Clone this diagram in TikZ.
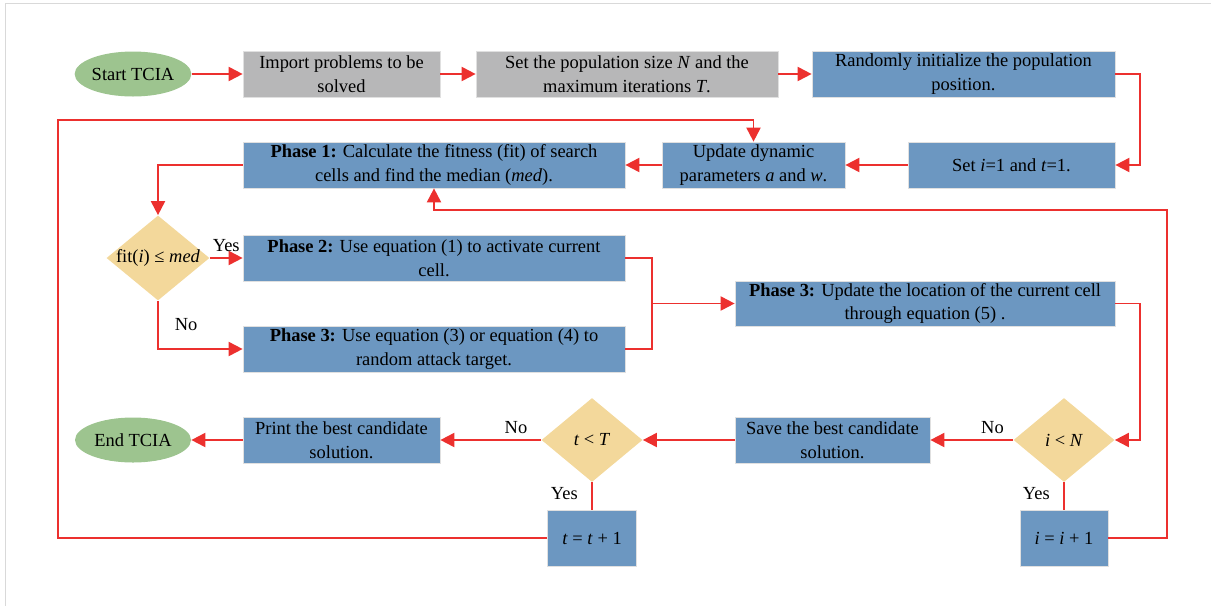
\documentclass[tikz,border=0pt]{standalone}
\usepackage{fontspec}
\setmainfont{Liberation Serif}
\usetikzlibrary{shapes.geometric,arrows.meta}

\definecolor{cellblue}{RGB}{108,151,193}
\definecolor{stepgray}{RGB}{183,183,184}
\definecolor{termgreen}{RGB}{157,196,143}
\definecolor{testyellow}{RGB}{243,216,155}
\definecolor{flowred}{RGB}{236,48,46}

\begin{document}
\begin{tikzpicture}[
    font=\fontsize{10.5}{13.6}\selectfont,
    box/.style={rectangle, draw=black!12, fill=cellblue, align=center, inner sep=1pt, minimum height=0.92cm},
    graybox/.style={box, fill=stepgray},
    term/.style={ellipse, fill=termgreen, inner sep=0pt, minimum width=2.32cm, minimum height=0.9cm},
    test/.style={diamond, fill=testyellow, inner sep=0pt, minimum width=2.02cm, minimum height=1.68cm},
    line/.style={draw=flowred, line width=1.1pt},
    arr/.style={line, -{Triangle[length=8pt,width=8pt]}}
  ]
      \useasboundingbox (0,0) rectangle (24.22,-12.12);
      \draw[black!15] (24.22,-0.06) -- (0.1,-0.06) -- (0.1,-12.12);

      \node [term] (start) at (2.66,-1.48) {Start TCIA};
      \node [graybox, right of=start, xshift=3.17cm, minimum width=3.94cm] (import) {Import problems to be\\solved};
      \node [graybox, right of=import, xshift=4.71cm, minimum width=6.04cm] (size) {Set the population size \textit{N} and the\\maximum iterations \textit{T}.};
      \node [box, right of=size, xshift=5.73cm, minimum width=6.06cm] (init) {Randomly initialize the population\\position.};
      \node [box, below of=init, yshift=-0.82cm, xshift=0.96cm, minimum width=4.14cm] (set) {Set \textit{i}=1 and \textit{t}=1.};
      \node [box, left of=set, xshift=-4.16cm, minimum width=3.66cm] (update) {Update dynamic\\parameters \textit{a} and \textit{w}.};
      \node [box, left of=update, xshift=-5.39cm, minimum width=7.64cm] (phase1) {\textbf{Phase 1:} Calculate the fitness (fit) of search\\cells and find the median (\textit{med}).};
      \node [test, below of=phase1, yshift=-0.86cm, xshift=-5.52cm, minimum width=2.06cm, minimum height=1.7cm] (fit) {\makebox[0pt]{fit(\textit{i}) ≤ \textit{med}}};
      \node [box, below of=phase1, yshift=-0.86cm, minimum width=7.64cm] (phase2) {\textbf{Phase 2:} Use equation (1) to activate current\\cell.};
      \node [box, below of=phase2, yshift=-0.82cm, minimum width=7.64cm] (attack) {\textbf{Phase 3:} Use equation (3) or equation (4) to\\random attack target.};
      \node [box, right of=phase2, xshift=8.82cm, yshift=-0.91cm, minimum width=7.6cm, minimum height=0.9cm] (locate) {\textbf{Phase 3:} Update the location of the current cell\\through equation (5) .};
      \node [test, below of=locate, yshift=-1.73cm, xshift=2.78cm] (ilimit) {\makebox[0pt]{\textit{i} < \textit{N}}};
      \node [box, left of=ilimit, xshift=-3.63cm, minimum width=3.9cm] (save) {Save the best candidate\\solution.};
      \node [test, left of=save, xshift=-3.81cm] (tlimit) {\makebox[0pt]{\textit{t} < \textit{T}}};
      \node [box, left of=tlimit, xshift=-4.01cm, minimum width=3.94cm] (print) {Print the best candidate\\solution.};
      \node [term, left of=print, xshift=-3.17cm] (stop) {End TCIA};
      \node [box, below of=tlimit, yshift=-0.96cm, minimum width=1.78cm, minimum height=1.12cm] (tinc) {\textit{t} = \textit{t} + 1};
      \node [box, below of=ilimit, yshift=-0.96cm, minimum width=1.76cm, minimum height=1.12cm] (iinc) {\textit{i} = \textit{i} + 1};

      \draw[arr] (start) -- (import);
      \draw[arr] (import) -- (size);
      \draw[arr] (size) -- (init);
      \draw[arr] (init.east) -- ++(0.5,0) |- (set.east);
      \draw[arr] (set) -- (update);
      \draw[arr] (update) -- (phase1);
      \draw[arr] (phase1.west) -| (fit.north);
      \draw[arr] (fit.east) -- node[above] {Yes} (phase2.west);
      \draw[arr] (fit.south) |- node[pos=0.25, right, xshift=0.2cm] {No} (attack.west);

      % both branches meet before phase 3
      \coordinate (merge) at ([xshift=-1.66cm]locate.west);
      \draw[line] (phase2.east) -| (merge);
      \draw[line] (attack.east) -| (merge);
      \draw[arr] (merge) -- (locate.west);
      \draw[arr] (locate.east) -- ++(0.5,0) |- (ilimit.east);

      \draw[arr] (ilimit.west) -- node[above, pos=0.25] {No} (save.east);
      \draw[arr] (save) -- (tlimit);
      \draw[arr] (tlimit.west) -- node[above, pos=0.25] {No} (print.east);
      \draw[arr] (print) -- (stop);
      \draw[line] (tlimit.south) -- node[left, pos=0.4, xshift=-0.15cm] {Yes} (tinc.north);
      \draw[line] (ilimit.south) -- node[left, pos=0.4, xshift=-0.15cm] {Yes} (iinc.north);

      % loops back
      \coordinate (backL) at (1.16,-2.4);
      \draw[arr] (tinc.west) -| (backL) -| (update.north);
      \coordinate (backR) at (23.34,-4.2);
      \draw[arr] (iinc.east) -| (backR) -| (phase1.south);
    \end{tikzpicture}
\end{document}
